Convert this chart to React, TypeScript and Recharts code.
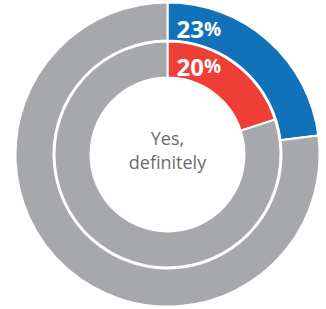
import * as React from "react";
import { PieChart, Pie, Cell, Label } from "recharts";

const segmentNames = ["Yes, definitely", "Other"];
const outerValues = [23, 77];
const innerValues = [20, 80];
const outerColors = ["#1172BA", "#A7A8AB"];
const innerColors = ["#EE3E36", "#A7A8AB"];
const centerLines = ["Yes,", "definitely"];

const outerData = segmentNames.map((name, i) => ({ name, value: outerValues[i] }));
const innerData = segmentNames.map((name, i) => ({ name, value: innerValues[i] }));

const FONT = "'Open Sans', 'Noto Sans', sans-serif";
const CX = 167.5;
const CY = 154.5;

function makePctLabel(offsetR: number) {
  return (props: any) => {
    const { cx, cy, innerRadius, outerRadius, index, value } = props;
    if (index !== 0) return null;
    const r = (innerRadius + outerRadius) / 2 - offsetR;
    return (
      <text
        x={cx + 9}
        y={cy - r}
        fill="#ffffff"
        textAnchor="start"
        dominantBaseline="central"
        fontFamily={FONT}
        fontWeight={700}
        fontSize={24}
      >
        {value}
        <tspan fontSize={19}>%</tspan>
      </text>
    );
  };
}

function CenterText() {
  return (
    <text
      x={CX}
      y={CY}
      textAnchor="middle"
      fill="#6A6B6E"
      fontFamily={FONT}
      fontSize={18}
    >
      <tspan x={CX} y={CY - 10}>{centerLines[0]}</tspan>
      <tspan x={CX} y={CY + 14}>{centerLines[1]}</tspan>
    </text>
  );
}

export default function App() {
  return (
    <div style={{ position: "absolute", left: 0, top: 0, width: 326, height: 309, background: "#fff" }}>
      <PieChart width={326} height={309} margin={{ top: 0, right: 0, bottom: 0, left: 0 }}>
        <Pie
          data={outerData}
          dataKey="value"
          nameKey="name"
          cx={CX}
          cy={CY}
          innerRadius={114}
          outerRadius={152}
          startAngle={90}
          endAngle={-270}
          stroke="#ffffff"
          strokeWidth={2}
          labelLine={false}
          label={makePctLabel(7)}
          isAnimationActive={false}
        >
          {outerData.map((d, i) => (
            <Cell key={d.name} fill={outerColors[i]} />
          ))}
        </Pie>
        <Pie
          data={innerData}
          dataKey="value"
          nameKey="name"
          cx={CX}
          cy={CY}
          innerRadius={77}
          outerRadius={113}
          startAngle={90}
          endAngle={-270}
          stroke="#ffffff"
          strokeWidth={2}
          labelLine={false}
          label={makePctLabel(6.5)}
          isAnimationActive={false}
        >
          {innerData.map((d, i) => (
            <Cell key={d.name} fill={innerColors[i]} />
          ))}
          <Label position="center" content={CenterText} />
        </Pie>
      </PieChart>
    </div>
  );
}
